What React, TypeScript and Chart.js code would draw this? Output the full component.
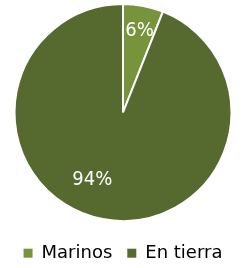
import React, { useEffect, useRef } from "react";
import { Chart, registerables } from "chart.js";

Chart.register(...registerables);

const categories = ["Marinos", "En tierra"];
const values = [6, 94];
const valueLabels = ["6%", "94%"];
const colors = ["#77933c", "#566a30"];

const labelPlugin = {
  id: "sliceLabels",
  afterDatasetsDraw(chart: any) {
    const ctx = chart.ctx;
    const meta = chart.getDatasetMeta(0);
    ctx.save();
    ctx.fillStyle = "#ffffff";
    ctx.font = "20px 'DejaVu Sans Condensed', 'DejaVu Sans', sans-serif";
    ctx.textAlign = "center";
    ctx.textBaseline = "middle";
    meta.data.forEach((arc: any, i: number) => {
      const { x, y, startAngle, endAngle, outerRadius } = arc.getProps(
        ["x", "y", "startAngle", "endAngle", "outerRadius"],
        true
      );
      const mid = (startAngle + endAngle) / 2;
      const k = i === 0 ? 0.77 : 0.68;
      const off = i === 0 ? 0.01 : 0.24;
      const a = mid + off;
      ctx.fillText(valueLabels[i], x + Math.cos(a) * outerRadius * k, y + Math.sin(a) * outerRadius * k);
    });
    ctx.restore();
  },
};

export default function App() {
  const ref = useRef<HTMLCanvasElement>(null);
  useEffect(() => {
    document.body.style.margin = "0";
    const defaultGen = (Chart as any).overrides.pie.plugins.legend.labels.generateLabels;
    const chart = new Chart(ref.current!, {
      type: "pie",
      data: {
        labels: categories,
        datasets: [
          {
            data: values,
            backgroundColor: colors,
            borderColor: "#ffffff",
            borderWidth: 2,
          },
        ],
      },
      options: {
        animation: false,
        responsive: false,
        layout: { padding: { top: 3, bottom: 0, left: 0, right: 0 } },
        plugins: {
          tooltip: { enabled: false },
          legend: {
            position: "bottom",
            maxHeight: 46,
            title: {
              display: true,
              text: "",
              font: { size: 1 },
              padding: { top: 6, bottom: 0 },
            },
            labels: {
              boxWidth: 9,
              boxHeight: 9,
              padding: 15,
              color: "#000000",
              font: { family: "'DejaVu Sans', sans-serif", size: 18 },
              generateLabels: (c: any) =>
                defaultGen(c).map((l: any) => ({ ...l, lineWidth: 0 })),
            },
          },
        },
      },
      plugins: [labelPlugin],
    });
    return () => chart.destroy();
  }, []);
  return (
    <div style={{ width: 246, height: 268 }}>
      <canvas ref={ref} width={246} height={268} style={{ display: "block" }} />
    </div>
  );
}
